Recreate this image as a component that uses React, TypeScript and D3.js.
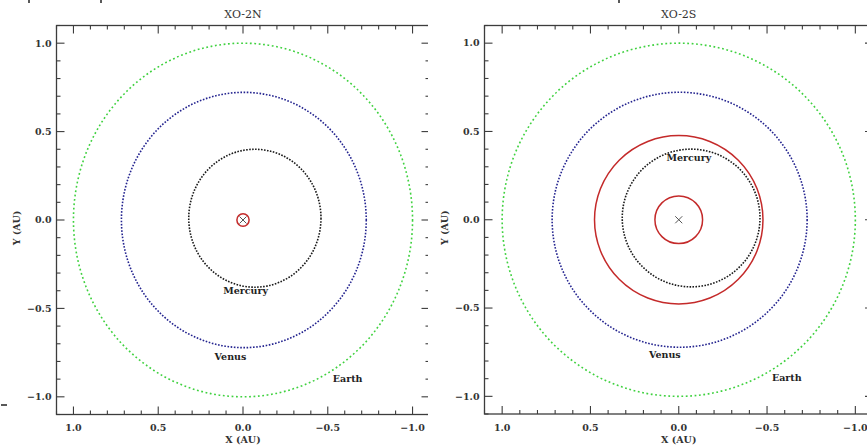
import React from "react";
import * as d3 from "d3";

// Panel titles (host stars)
const panelTitles = ["XO-2N", "XO-2S"];

// Solar-system orbits drawn for scale: name, radius (AU), centre offset (AU)
const solarNames = ["Mercury", "Venus", "Earth"];
const solarRadius = [0.39, 0.722, 1.0];
const solarCenterX = [-0.07, -0.005, 0.0];
const solarCenterY = [0.01, 0.0, 0.0];
const solarColors = ["#1a1a1a", "#23238f", "#3fd13f"];

// Planet orbit radii (AU) around each star
const planetOrbitsN = [0.036];
const planetOrbitsS = [0.135, 0.477];

// Orbit label anchors (AU) per panel
const labelXN = [-0.015, 0.074, -0.617];
const labelYN = [-0.40, -0.775, -0.9];
const labelXS = [-0.057, 0.079, -0.612];
const labelYS = [0.35, -0.765, -0.893];

// Axis ticks
const majorTicks = [-1.0, -0.5, 0.0, 0.5, 1.0];
const axisDomain = [1.1, -1.1];

const W = 867;
const H = 445;
const FONT = "'DejaVu Serif', 'Liberation Serif', serif";
const AXIS = "#3c3c3c";

type PanelProps = {
  id: string;
  title: string;
  x0: number;
  x1: number;
  y0: number;
  y1: number;
  clipRight: number;
  planets: number[];
  labelX: number[];
  labelY: number[];
  ylabelX: number;
};

function Panel(p: PanelProps) {
  const x = d3.scaleLinear().domain(axisDomain).range([p.x0, p.x1]);
  const y = d3.scaleLinear().domain(axisDomain).range([p.y0, p.y1]);
  const minor = x.ticks(22).filter((t) => !majorTicks.some((m) => Math.abs(m - t) < 1e-6));
  const fmt = d3.format(".1f");
  const kx = Math.abs(x(1) - x(0));
  const ky = Math.abs(y(1) - y(0));
  const majLen = 8;
  const minLen = 4;
  const dash = ["1.6 1.4", "1.6 1.6", "1.8 2.6"];

  return (
    <g>
      <defs>
        <clipPath id={`clip-${p.id}`}>
          <rect x={0} y={0} width={p.clipRight} height={H} />
        </clipPath>
      </defs>
      <text
        x={x(0)}
        y={18}
        textAnchor="middle"
        fontFamily={FONT}
        fontSize={11}
        fill="#333"
      >
        {p.title}
      </text>

      <g clipPath={`url(#clip-${p.id})`}>
        {/* solar-system orbits */}
        {solarNames.map((n, i) => (
          <ellipse
            key={n}
            cx={x(solarCenterX[i])}
            cy={y(solarCenterY[i])}
            rx={solarRadius[i] * kx}
            ry={solarRadius[i] * ky}
            fill="none"
            stroke={solarColors[i]}
            strokeWidth={1.6}
            strokeDasharray={dash[i]}
          />
        ))}
        {/* planet orbits */}
        {p.planets.map((r, i) => (
          <ellipse
            key={i}
            cx={x(0)}
            cy={y(0)}
            rx={r * kx}
            ry={r * ky}
            fill="none"
            stroke="#c42a2a"
            strokeWidth={1.5}
          />
        ))}
        {/* host star */}
        <g stroke="#555" strokeWidth={1}>
          <line x1={x(0) - 3.5} y1={y(0) - 3.5} x2={x(0) + 3.5} y2={y(0) + 3.5} />
          <line x1={x(0) - 3.5} y1={y(0) + 3.5} x2={x(0) + 3.5} y2={y(0) - 3.5} />
        </g>
        {solarNames.map((n, i) => (
          <text
            key={n}
            x={x(p.labelX[i])}
            y={y(p.labelY[i])}
            dy="0.35em"
            textAnchor="middle"
            fontFamily={FONT}
            fontWeight="bold"
            fontSize={9.5}
            fill="#222"
          >
            {n}
          </text>
        ))}

        {/* frame */}
        <rect
          x={p.x0}
          y={p.y0}
          width={p.x1 - p.x0}
          height={p.y1 - p.y0}
          fill="none"
          stroke={AXIS}
          strokeWidth={1.3}
        />
        {/* x ticks, top and bottom */}
        <g stroke={AXIS} strokeWidth={1.1}>
          {majorTicks.map((t) => (
            <g key={`mx${t}`}>
              <line x1={x(t)} x2={x(t)} y1={p.y1} y2={p.y1 - majLen} />
              <line x1={x(t)} x2={x(t)} y1={p.y0} y2={p.y0 + majLen} />
              <line x1={p.x0} x2={p.x0 + majLen} y1={y(t)} y2={y(t)} />
              <line x1={p.x1} x2={p.x1 - majLen} y1={y(t)} y2={y(t)} />
            </g>
          ))}
          {minor.map((t) => (
            <g key={`mn${t}`}>
              <line x1={x(t)} x2={x(t)} y1={p.y1} y2={p.y1 - minLen} />
              <line x1={x(t)} x2={x(t)} y1={p.y0} y2={p.y0 + minLen} />
              <line x1={p.x0} x2={p.x0 + minLen} y1={y(t)} y2={y(t)} />
              <line x1={p.x1} x2={p.x1 - minLen} y1={y(t)} y2={y(t)} />
            </g>
          ))}
        </g>
      </g>

      {/* tick labels */}
      {majorTicks.map((t) => (
        <text
          key={`xl${t}`}
          x={x(t)}
          y={431}
          textAnchor="middle"
          fontFamily={FONT}
          fontWeight="bold"
          fontSize={9.5}
          fill="#333"
        >
          {fmt(t)}
        </text>
      ))}
      {majorTicks.map((t) => (
        <text
          key={`yl${t}`}
          x={p.x0 - 5}
          y={y(t)}
          dy="0.35em"
          textAnchor="end"
          fontFamily={FONT}
          fontWeight="bold"
          fontSize={9.5}
          fill="#333"
        >
          {fmt(t)}
        </text>
      ))}
      <text
        x={x(0)}
        y={443}
        textAnchor="middle"
        fontFamily={FONT}
        fontWeight="bold"
        fontSize={9.5}
        fill="#333"
      >
        X (AU)
      </text>
      <text
        transform={`translate(${p.ylabelX},${(p.y0 + p.y1) / 2 + 8}) rotate(-90)`}
        textAnchor="middle"
        fontFamily={FONT}
        fontWeight="bold"
        fontSize={9.5}
        fill="#333"
      >
        Y (AU)
      </text>
    </g>
  );
}

export default function App() {
  return (
    <svg
      width={W}
      height={H}
      style={{ position: "absolute", left: 0, top: 0, background: "#fff" }}
    >
      <rect width={W} height={H} fill="#fff" />
      {/* edges of the neighbouring figure panels */}
      <g stroke="#222" strokeWidth={1.5}>
        <line x1={29} x2={29} y1={0} y2={3} />
        <line x1={101} x2={101} y1={0} y2={3} />
        <line x1={619} x2={619} y1={0} y2={3} />
        <line x1={1} x2={7} y1={405} y2={405} />
      </g>
      <Panel
        id="n"
        title={panelTitles[0]}
        x0={56.5}
        x1={429.5}
        y0={25.5}
        y1={414.5}
        clipRight={428}
        planets={planetOrbitsN}
        labelX={labelXN}
        labelY={labelYN}
        ylabelX={20}
      />
      <Panel
        id="s"
        title={panelTitles[1]}
        x0={484.5}
        x1={873}
        y0={25.5}
        y1={414}
        clipRight={W}
        planets={planetOrbitsS}
        labelX={labelXS}
        labelY={labelYS}
        ylabelX={448}
      />
    </svg>
  );
}
